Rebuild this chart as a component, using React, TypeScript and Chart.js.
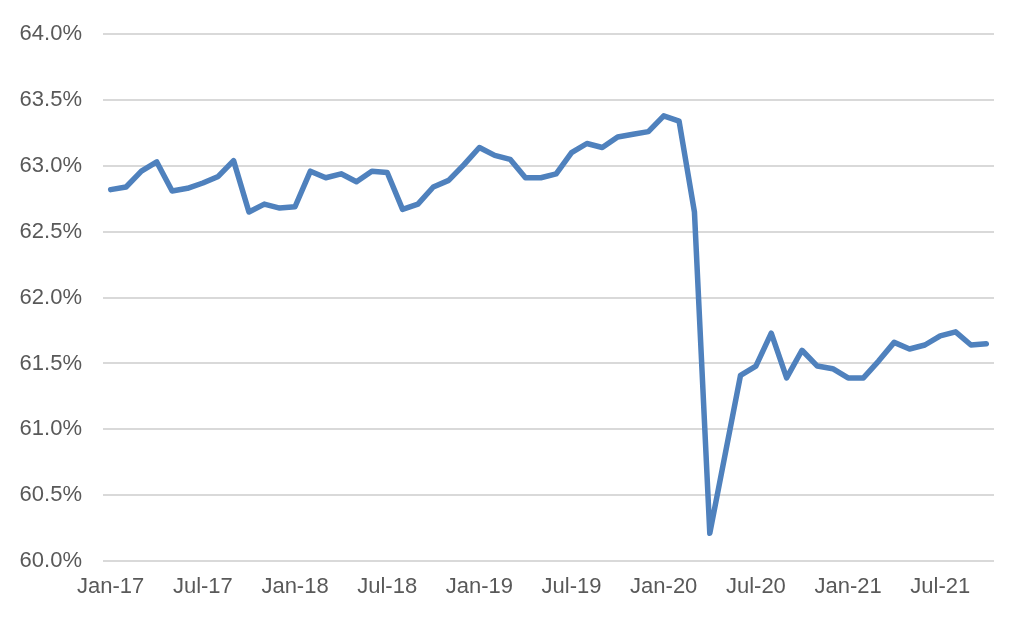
import React, { useEffect, useRef } from "react";
import { Chart, registerables } from "chart.js";

Chart.register(...registerables);

const months: string[] = [
  "Jan-17","Feb-17","Mar-17","Apr-17","May-17","Jun-17","Jul-17","Aug-17","Sep-17","Oct-17","Nov-17","Dec-17",
  "Jan-18","Feb-18","Mar-18","Apr-18","May-18","Jun-18","Jul-18","Aug-18","Sep-18","Oct-18","Nov-18","Dec-18",
  "Jan-19","Feb-19","Mar-19","Apr-19","May-19","Jun-19","Jul-19","Aug-19","Sep-19","Oct-19","Nov-19","Dec-19",
  "Jan-20","Feb-20","Mar-20","Apr-20","May-20","Jun-20","Jul-20","Aug-20","Sep-20","Oct-20","Nov-20","Dec-20",
  "Jan-21","Feb-21","Mar-21","Apr-21","May-21","Jun-21","Jul-21","Aug-21","Sep-21","Oct-21",
];

const participationRate: number[] = [
  62.82, 62.84, 62.96, 63.03, 62.81, 62.83, 62.87, 62.92, 63.04, 62.65, 62.71, 62.68,
  62.69, 62.96, 62.91, 62.94, 62.88, 62.96, 62.95, 62.67, 62.71, 62.84, 62.89, 63.01,
  63.14, 63.08, 63.05, 62.91, 62.91, 62.94, 63.10, 63.17, 63.14, 63.22, 63.24, 63.26,
  63.38, 63.34, 62.65, 60.21, 60.81, 61.41, 61.48, 61.73, 61.39, 61.60, 61.48, 61.46,
  61.39, 61.39, 61.52, 61.66, 61.61, 61.64, 61.71, 61.74, 61.64, 61.65,
];

const yMin = 60;
const yMax = 64;
const yStep = 0.5;
const labelEvery = 6;

export default function App() {
  const canvasRef = useRef<HTMLCanvasElement | null>(null);

  useEffect(() => {
    if (!canvasRef.current) return;
    const font = { family: "'Liberation Sans', Arial, sans-serif", size: 22 };
    const chart = new Chart(canvasRef.current, {
      type: "line",
      data: {
        labels: months,
        datasets: [
          {
            data: participationRate,
            borderColor: "#4F81BD",
            backgroundColor: "#4F81BD",
            borderWidth: 5.5,
            pointRadius: 0,
            tension: 0,
            borderJoinStyle: "round",
            borderCapStyle: "round",
          },
        ],
      },
      options: {
        animation: false,
        responsive: false,
        maintainAspectRatio: false,
        layout: { padding: { top: 34, right: 30, bottom: 0, left: 0 } },
        plugins: { legend: { display: false }, tooltip: { enabled: false } },
        scales: {
          x: {
            type: "category",
            offset: true,
            grid: { display: false, drawTicks: false },
            border: { display: false },
            ticks: {
              autoSkip: false,
              maxRotation: 0,
              minRotation: 0,
              padding: 13,
              color: "#595959",
              font,
              callback: (_v: any, i: number) => (i % labelEvery === 0 ? months[i] : ""),
            },
            afterFit: (scale: any) => {
              scale.height = 57;
            },
          },
          y: {
            min: yMin,
            max: yMax,
            grid: { color: "#d9d9d9", lineWidth: 2, drawTicks: false },
            border: { display: false },
            ticks: {
              stepSize: yStep,
              padding: 21,
              color: "#595959",
              font,
              callback: (v: any) => Number(v).toFixed(1) + "%",
            },
            afterFit: (scale: any) => {
              scale.width = 103;
            },
          },
        },
      },
    } as any);
    return () => chart.destroy();
  }, []);

  return (
    <div style={{ position: "fixed", left: 0, top: 0, width: 1024, height: 618, background: "#fff" }}>
      <canvas ref={canvasRef} width={1024} height={618} style={{ width: 1024, height: 618 }} />
    </div>
  );
}
